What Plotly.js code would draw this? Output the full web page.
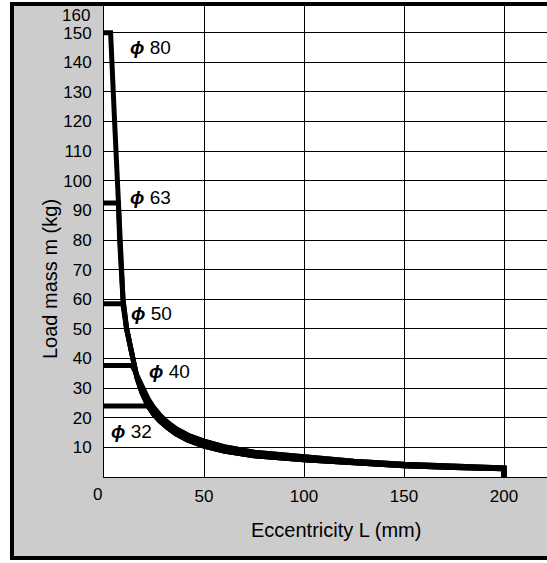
<!DOCTYPE html>
<html>
<head>
<meta charset="utf-8">
<script src="https://cdn.plot.ly/plotly-3.0.1.min.js"></script>
<style>html,body{margin:0;padding:0;background:#fff;overflow:hidden;}#chart{width:547px;height:563px;}</style>
</head>
<body>
<div id="chart"></div>
<script>
// Series data: eccentricity L (mm) vs load mass m (kg)
const bores = ["ϕ 80", "ϕ 63", "ϕ 50", "ϕ 40", "ϕ 32"];

const L80 = [0, 3.3, 5.3, 7.1, 7.8, 8.6, 9.5, 11.3, 13, 14.5, 16.5, 19, 22, 25, 28, 32, 36, 42, 50, 60, 75, 100, 125, 150, 175, 200, 200];
const m80 = [150, 150, 120, 92, 80, 70, 60, 50, 44, 39, 33.5, 28.5, 24, 21, 18.8, 16.5, 14.6, 12.4, 10.4, 8.8, 7.2, 5.8, 4.6, 3.8, 3.2, 2.8, 0];

const L63 = [0, 7.2, 7.8, 8.6, 9.5, 11.3, 13, 14.5, 16.5, 19, 22, 25, 28, 32, 36, 42, 50, 60, 75, 100, 125, 150, 175, 200, 200];
const m63 = [92.5, 92.5, 80, 70, 60, 50, 44, 39, 33.5, 28.5, 24, 21, 18.8, 16.5, 14.6, 12.4, 10.4, 8.8, 7.2, 5.8, 4.6, 3.8, 3.2, 2.8, 0];

const L50 = [0, 9.4, 11.3, 13, 14.5, 16.5, 19, 22, 25, 28, 32, 36, 42, 50, 60, 75, 100, 125, 150, 175, 200, 200];
const m50 = [58.5, 58.5, 50, 44, 39, 33.5, 28.5, 24, 21, 18.8, 16.5, 14.6, 12.4, 10.4, 8.8, 7.2, 5.8, 4.6, 3.8, 3.2, 2.8, 0];

const L40 = [0, 14, 15.3, 17, 19, 22, 25, 28, 32, 36, 42, 50, 60, 75, 100, 125, 150, 175, 200, 200];
const m40 = [37.6, 37.6, 36, 33.5, 30.5, 26.5, 23.3, 20.8, 18.3, 16.3, 14.1, 12.1, 10.2, 8.4, 6.8, 5.3, 4.3, 3.6, 3.1, 0];

const L32 = [0, 23.5, 25, 28, 32, 36, 42, 50, 60, 75, 100, 125, 150, 175, 200, 200];
const m32 = [24, 24, 23.3, 20.8, 18.3, 16.3, 14.1, 12.1, 10.2, 8.4, 6.8, 5.3, 4.3, 3.6, 3.1, 0];

const xTickVals = [0, 50, 100, 150, 200];
const xTickText = ["", "50", "100", "150", "200"];
const yTickVals = [10, 20, 30, 40, 50, 60, 70, 80, 90, 100, 110, 120, 130, 140, 150];

// label anchor positions (data coords)
const labelL = [12, 12, 12.5, 21.5, 2.5];
const labelM = [145.1, 94.5, 55.2, 35.5, 15.2];

const xTitle = "Eccentricity L (mm)";
const yTitle = "Load mass m (kg)";

const FONT = "'Liberation Sans', Arial, Helvetica, sans-serif";
const series = [[L80, m80], [L63, m63], [L50, m50], [L40, m40], [L32, m32]];

const traces = series.map((s, i) => ({
  x: s[0], y: s[1], type: "scatter", mode: "lines", name: bores[i],
  line: {color: "#000000", width: 5}, hoverinfo: "skip"
}));

const annotations = bores.map((b, i) => ({
  x: labelL[i], y: labelM[i], xref: "x", yref: "y",
  text: "<b><i>ϕ</i></b>" + b.slice(1),
  showarrow: false, xanchor: "left", yanchor: "middle",
  font: {family: FONT, size: 19, color: "#000"}
}));
annotations.push({x: 0.5237, y: -0.1118, xref: "paper", yref: "paper", text: xTitle, showarrow: false,
  xanchor: "center", yanchor: "middle", font: {family: FONT, size: 20, color: "#000"}});
annotations.push({x: -0.1219, y: 0.4177, xref: "paper", yref: "paper", text: yTitle, showarrow: false,
  textangle: -90, xanchor: "center", yanchor: "middle", font: {family: FONT, size: 20, color: "#000"}});
annotations.push({x: -0.0271, y: 0.9736, xref: "paper", yref: "paper", text: "160", showarrow: false,
  xanchor: "right", yanchor: "middle", font: {family: FONT, size: 17, color: "#000"}});
annotations.push({x: -0.0158, y: -0.0359, xref: "paper", yref: "paper", text: "0", showarrow: false,
  xanchor: "center", yanchor: "middle", font: {family: FONT, size: 17, color: "#000"}});

const layout = {
  width: 547, height: 563,
  margin: {l: 104, r: 0, t: 3, b: 86, pad: 0},
  paper_bgcolor: "#ffffff", plot_bgcolor: "#ffffff",
  showlegend: false,
  font: {family: FONT, size: 17, color: "#000"},
  xaxis: {
    range: [0, 221.5], tickvals: xTickVals, ticktext: xTickText,
    showgrid: true, gridcolor: "#000000", gridwidth: 1, zeroline: false,
    showline: true, linecolor: "#000000", linewidth: 1,
    ticks: "", ticklabelstandoff: 4, tickfont: {family: FONT, size: 17, color: "#000"},
    fixedrange: true
  },
  yaxis: {
    range: [0, 160], tickvals: yTickVals,
    showgrid: true, gridcolor: "#000000", gridwidth: 1, zeroline: false,
    showline: true, linecolor: "#000000", linewidth: 1,
    ticks: "", ticklabelstandoff: 8, tickfont: {family: FONT, size: 17, color: "#000"},
    fixedrange: true
  },
  shapes: [
    {type: "rect", xref: "paper", yref: "paper", x0: -0.2077, x1: 1.0, y0: -0.1709, y1: 0.9979,
     fillcolor: "#cccccc", line: {width: 0}, layer: "below"},
    {type: "rect", xref: "x", yref: "y", x0: 0, x1: 221.5, y0: 0, y1: 160,
     fillcolor: "#ffffff", line: {width: 0}, layer: "below"},
    {type: "path", xref: "paper", yref: "paper",
     path: "M 1.3,0.9979 L -0.2077,0.9979 L -0.2077,-0.1709 L 1.3,-0.1709",
     line: {width: 4, color: "#000000"}, layer: "above"}
  ],
  annotations: annotations
};

Plotly.newPlot("chart", traces, layout, {displayModeBar: false, staticPlot: true});
</script>
</body>
</html>
